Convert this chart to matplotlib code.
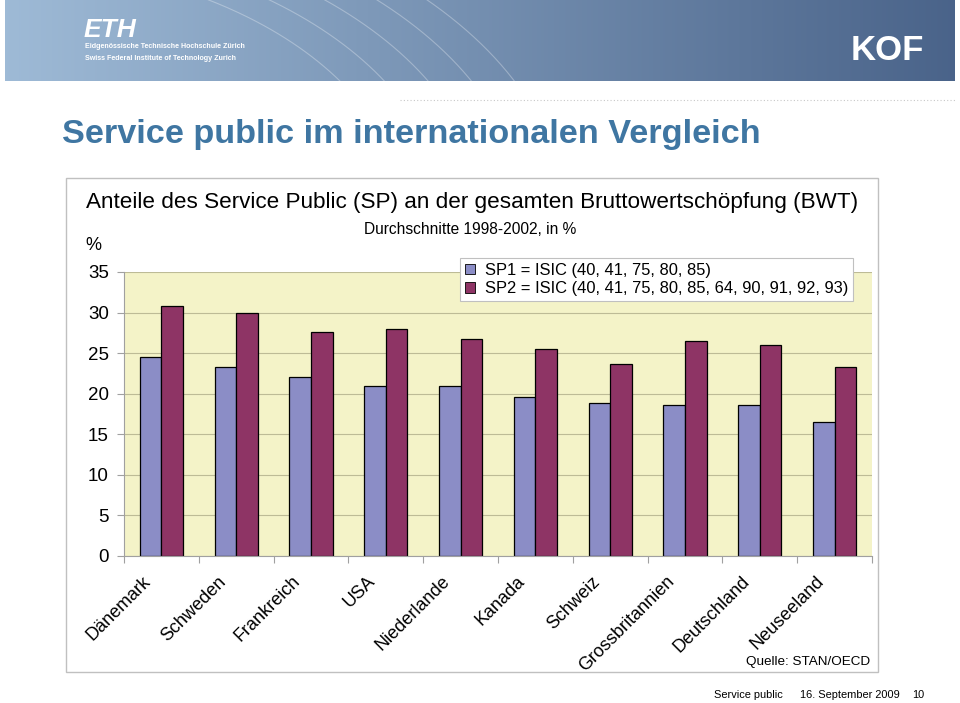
import numpy as np
import matplotlib.pyplot as plt
from matplotlib.patches import Rectangle
from matplotlib.transforms import offset_copy

# data
countries = ['Dänemark', 'Schweden', 'Frankreich', 'USA', 'Niederlande', 'Kanada',
             'Schweiz', 'Grossbritannien', 'Deutschland', 'Neuseeland']
sp1 = [24.5, 23.3, 22.0, 21.0, 20.9, 19.6, 18.8, 18.6, 18.6, 16.5]
sp2 = [30.8, 30.0, 27.6, 28.0, 26.7, 25.5, 23.7, 26.5, 26.0, 23.3]
series_labels = ['SP1 = ISIC (40, 41, 75, 80, 85)',
                 'SP2 = ISIC (40, 41, 75, 80, 85, 64, 90, 91, 92, 93)']
yticks = [0, 5, 10, 15, 20, 25, 30, 35]

plt.rcParams['font.family'] = ['Liberation Sans', 'DejaVu Sans']

W, H = 960, 703
fig = plt.figure(figsize=(9.6, 7.03), dpi=100)


def fx(x):
    return x / W


def fy(y):
    return 1 - y / H


# header banner with gradient
ban = fig.add_axes([fx(5), fy(81), fx(950), 81 / H])
grad = np.linspace(0, 1, 400)
c0 = np.array([0.62, 0.73, 0.84])
c1 = np.array([0.29, 0.39, 0.54])
img = c0[None, None, :] * (1 - grad[None, :, None]) + c1[None, None, :] * grad[None, :, None]
img = np.repeat(img, 2, axis=0)
ban.imshow(img, aspect='auto', extent=[0, 950, 81, 0])
t = np.linspace(0, np.pi / 2, 200)
for a, b in [(420, 260), (460, 280), (500, 300), (540, 320), (580, 340)]:
    ban.plot(a * np.sin(t) - 20, 220 - b * np.cos(t), color='white', alpha=0.3, lw=0.8)
ban.set_xlim(0, 950)
ban.set_ylim(81, 0)
ban.axis('off')

fig.text(fx(84), fy(30), 'ETH', color='white', fontsize=19, weight='bold',
         style='italic', va='center')
fig.text(fx(85), fy(47), 'Eidgenössische Technische Hochschule Zürich', color='white',
         fontsize=5.1, weight='bold', va='center')
fig.text(fx(85), fy(58), 'Swiss Federal Institute of Technology Zurich', color='white',
         fontsize=5.1, weight='bold', va='center')
fig.text(fx(887), fy(50), 'KOF', color='white', fontsize=25, weight='bold',
         ha='center', va='center')

# dotted separator
fig.add_artist(plt.Line2D([fx(400), fx(955)], [fy(100), fy(100)], color='#c8c8c8',
                          lw=0.8, ls=(0, (1, 2))))

fig.text(fx(62), fy(134), 'Service public im internationalen Vergleich', color='#3f76a2',
         fontsize=24.7, weight='bold', va='center')

# chart frame (behind the axes)
frame = Rectangle((fx(66), fy(672)), fx(812), 494 / H, transform=fig.transFigure,
                  facecolor='white', edgecolor='#c0c0c0', lw=1, zorder=-5)
fig.patches.append(frame)

fig.text(fx(472), fy(203), 'Anteile des Service Public (SP) an der gesamten Bruttowertschöpfung (BWT)',
         fontsize=16.2, ha='center', va='center')
fig.text(fx(470), fy(230), 'Durchschnitte 1998-2002, in %', fontsize=11.2,
         ha='center', va='center')
fig.text(fx(85), fy(246), '%', fontsize=13, va='center')

ax = fig.add_axes([fx(124), fy(556), fx(748), 284 / H])
ax.set_facecolor('#f4f3c8')
x = np.arange(len(countries))
w = 0.29
ax.bar(x - w / 2, sp1, w, color='#8b8dc6', edgecolor='black', lw=0.9,
       label=series_labels[0])
ax.bar(x + w / 2, sp2, w, color='#8e3465', edgecolor='black', lw=0.9,
       label=series_labels[1])
ax.set_xlim(-0.5, len(countries) - 0.5)
ax.set_ylim(0, 35)
ax.set_yticks(yticks)
ax.set_yticklabels([str(v) for v in yticks], fontsize=13.5)
ax.yaxis.grid(True, color='#bdbb96', lw=0.8)
ax.set_axisbelow(True)
ax.tick_params(axis='y', length=5, color='#a0a0a0', pad=6)
ax.set_xticks(np.arange(-0.5, len(countries)))
ax.set_xticklabels([])
ax.tick_params(axis='x', length=5, color='#a0a0a0')
for s in ['top', 'right']:
    ax.spines[s].set_visible(False)
for s in ['left', 'bottom']:
    ax.spines[s].set_color('#a0a0a0')

for i, name in enumerate(countries):
    tr = offset_copy(ax.transData, fig=fig, x=-13, y=-23, units='dots')
    ax.text(i, 0, name, transform=tr, rotation=45, ha='right', va='center',
            rotation_mode='anchor', fontsize=13, clip_on=False)

leg = ax.legend(loc='upper left', bbox_to_anchor=(fx(460), fy(258)),
                bbox_transform=fig.transFigure, fontsize=11.9, frameon=True,
                fancybox=False, edgecolor='#c0c0c0', framealpha=1,
                handlelength=0.6, handleheight=0.6, handletextpad=0.6,
                borderpad=0.3, labelspacing=0.2, borderaxespad=0)
leg.get_frame().set_linewidth(0.8)
for hnd in leg.legend_handles:
    hnd.set_linewidth(0.6)

fig.text(fx(746), fy(662), 'Quelle: STAN/OECD', fontsize=9.7, va='center')

fig.text(fx(714), fy(695), 'Service public', fontsize=7.9, va='center')
fig.text(fx(800), fy(695), '16. September 2009', fontsize=7.9, va='center')
fig.text(fx(912), fy(695), '10', fontsize=7.9, va='center')

fig.savefig('out.png', dpi=100)
